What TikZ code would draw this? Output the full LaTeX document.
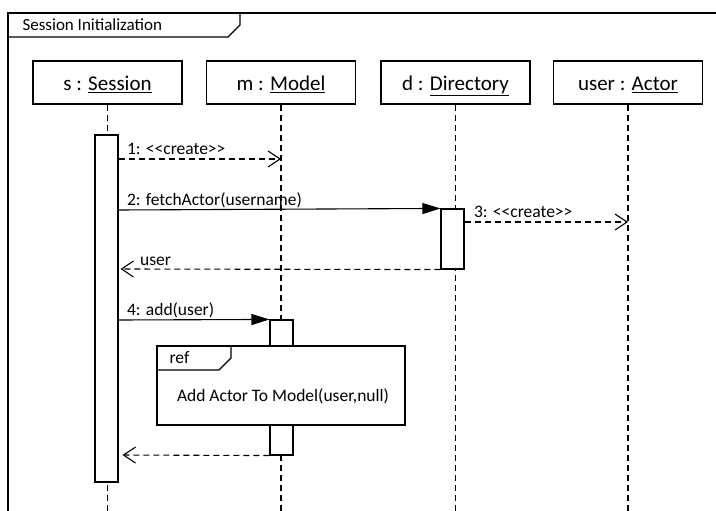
\documentclass[tikz,border=0pt]{standalone}
\usepackage{fontspec}
\setmainfont{Carlito}
\usetikzlibrary{arrows.meta}

\tikzset{
  head/.style={draw,fill=white,minimum width=149pt,minimum height=43pt,inner sep=0pt,
    text height=16pt,text depth=0pt,font=\fontsize{21}{25}\selectfont},
  actbox/.style={draw,fill=white,minimum width=23pt,inner sep=0pt},
  lifeline/.style={dash pattern=on 6pt off 4pt},
  call/.style={-{Triangle[length=18pt,width=11pt]}},
  reply/.style={dash pattern=on 6pt off 4pt,-{Straight Barb[length=12pt,width=16pt]}},
  msg/.style={font=\fontsize{17.5}{21}\selectfont,anchor=base west,inner sep=0pt,yshift=5pt}
}

\begin{document}
\begin{tikzpicture}[x=1pt,y=-1pt,line width=1.1pt]
  \useasboundingbox (0,0) rectangle (716,511);
  % outer frame, cut by the page edge
  \draw (8,520)--(8,13)--(725,13);
  \draw (8,37)--(228,37)--(240,25)--(240,13);
  \node[anchor=west,font=\fontsize{17}{20}\selectfont,inner sep=0pt] (title) at (22,25) {Session Initialization};

  % lifeline heads
  \node[head] (s) at (107.5,82.5) {s : \underline{Session}};
  \node[head] (m) at (281,82.5) {m : \underline{Model}};
  \node[head] (d) at (455.5,82.5) {d : \underline{Directory}};
  \node[head] (u) at (628,82.5) {user : \underline{Actor}};
  \foreach \n in {s,m,d,u}
    \draw[lifeline] (\n.south) -- (\n.south |- 0,511);

  % activations
  \node[actbox,minimum height=347pt] (sact) at (106.5,308.5) {};
  \node[actbox,minimum height=60pt] (dact) at (452.5,239) {};
  \node[actbox,minimum height=135pt] (mact) at (281.5,387.5) {};

  % messages
  \draw[reply] (sact.east |- 0,159) node[msg,xshift=8pt] {1: <{}<create>{}>} -- (m.south |- 0,159);
  \draw[call] (sact.east |- 0,210) node[msg,xshift=8pt] {2: fetchActor(username)} -- (dact.north west);
  \draw[reply] (dact.east |- 0,222) node[msg,xshift=9pt] {3: <{}<create>{}>} -- (u.south |- 0,222);
  \draw[reply,shorten >=2pt] (dact.south west) -- (sact.east |- 0,269) node[msg,xshift=21pt,yshift=-1pt] {user};
  \draw[call] (sact.east |- 0,320) node[msg,xshift=8pt] {4: add(user)} -- (mact.north west);
  \draw[reply,shorten >=4pt] (mact.south west) -- (sact.east |- 0,455);

  % interaction use
  \node[draw,fill=white,minimum width=248pt,minimum height=79pt,inner sep=0pt] (ref) at (281,385.5) {};
  \draw (ref.north west |- 0,370)--(219,370)--(231,358)--(231,346);
  \node[anchor=west,font=\fontsize{17.5}{21}\selectfont,inner sep=0pt] (reftag) at (169,358) {ref};
  \node[font=\fontsize{17.5}{21}\selectfont,inner sep=0pt] (reftext) at (283,396) {Add Actor To Model(user,null)};
\end{tikzpicture}
\end{document}
